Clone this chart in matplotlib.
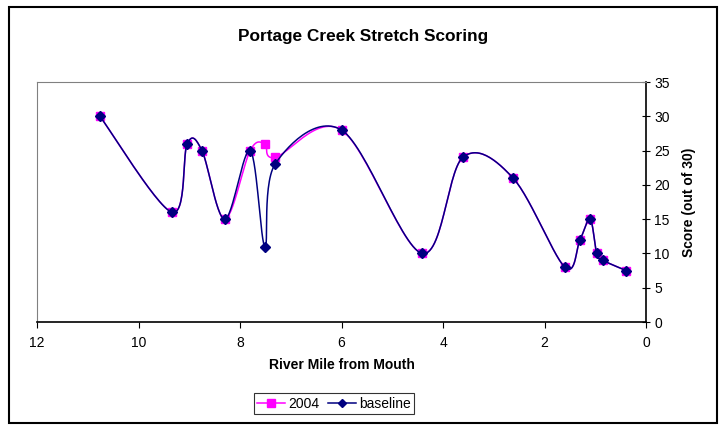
import numpy as np
import matplotlib.pyplot as plt
from matplotlib.patches import Rectangle

plt.rcParams['font.family'] = ['Liberation Sans', 'DejaVu Sans']

# River mile and scores
miles = [10.76, 9.34, 9.04, 8.75, 8.30, 7.80, 7.51, 7.31, 6.0, 4.41, 3.61, 2.62, 1.60, 1.30, 1.10, 0.97, 0.85, 0.39]
score_2004 = [30, 16, 26, 25, 15, 25, 26, 24, 28, 10, 24, 21, 8, 12, 15, 10, 9, 7.5]
score_baseline = [30, 16, 26, 25, 15, 25, 11, 23, 28, 10, 24, 21, 8, 12, 15, 10, 9, 7.5]

x_ticks = [12, 10, 8, 6, 4, 2, 0]
y_ticks = [0, 5, 10, 15, 20, 25, 30, 35]


def smooth(x, y, n=30):
    # Excel-style smoothed line (Catmull-Rom as cubic Bezier)
    p = np.column_stack([x, y]).astype(float)
    p = np.vstack([p[0], p, p[-1]])
    out = []
    for i in range(1, len(p) - 2):
        p0, p1, p2, p3 = p[i - 1], p[i], p[i + 1], p[i + 2]
        c1 = p1 + (p2 - p0) / 6
        c2 = p2 - (p3 - p1) / 6
        t = np.linspace(0, 1, n)[:, None]
        seg = ((1 - t) ** 3) * p1 + 3 * ((1 - t) ** 2) * t * c1 + 3 * (1 - t) * t ** 2 * c2 + t ** 3 * p2
        out.append(seg if i == 1 else seg[1:])
    out = np.vstack(out)
    return out[:, 0], out[:, 1]


fig = plt.figure(figsize=(7.19, 4.25), dpi=100)
ax = fig.add_axes([37 / 719, 1 - 322 / 425, 609 / 719, 240 / 425])

sx, sy = smooth(miles, score_2004)
ax.plot(sx, sy, color='#ff00ff', lw=1.1, zorder=2)
ax.plot(miles, score_2004, ls='none', marker='s', ms=6, color='#ff00ff', zorder=3)
bx, by = smooth(miles, score_baseline)
ax.plot(bx, by, color='#000080', lw=1.1, zorder=4)
ax.plot(miles, score_baseline, ls='none', marker='D', ms=5.5, color='#000080', zorder=5)

# legend handles
h1, = ax.plot([], [], color='#ff00ff', marker='s', ms=6, lw=1.1, label='2004')
h2, = ax.plot([], [], color='#000080', marker='D', ms=4.5, lw=1.1, label='baseline')

ax.set_xlim(12, 0)
ax.set_ylim(0, 35)
ax.set_xticks(x_ticks)
ax.set_yticks(y_ticks)
ax.yaxis.tick_right()
ax.yaxis.set_label_position('right')
ax.tick_params(axis='y', direction='inout', length=6, labelsize=10, pad=3)
ax.tick_params(axis='x', direction='out', length=4, labelsize=10, pad=6)
for s in ['left', 'top']:
    ax.spines[s].set_color('#808080')
for s in ['right', 'bottom']:
    ax.spines[s].set_color('black')
    ax.spines[s].set_linewidth(1.2)

ax.set_xlabel('River Mile from Mouth', fontsize=10, fontweight='bold', labelpad=6)
ax.set_ylabel('Score (out of 30)', fontsize=10, fontweight='bold', labelpad=9)
fig.text(363 / 719, 1 - 36 / 425, 'Portage Creek Stretch Scoring', fontsize=12.4,
         fontweight='bold', ha='center', va='center')

leg = fig.legend(handles=[h1, h2], loc='center', bbox_to_anchor=(334 / 719, 1 - 403.5 / 425),
                 ncol=2, fontsize=10, frameon=True, fancybox=False, edgecolor='black',
                 handlelength=2.0, handletextpad=0.25, columnspacing=0.6, borderpad=0.25,
                 borderaxespad=0)
leg.get_frame().set_linewidth(0.8)

fig.patches.append(Rectangle((9 / 719, 2 / 425), 708 / 719, 416 / 425, transform=fig.transFigure,
                             fill=False, edgecolor='black', lw=1.5))

fig.savefig('out.png', dpi=100)
